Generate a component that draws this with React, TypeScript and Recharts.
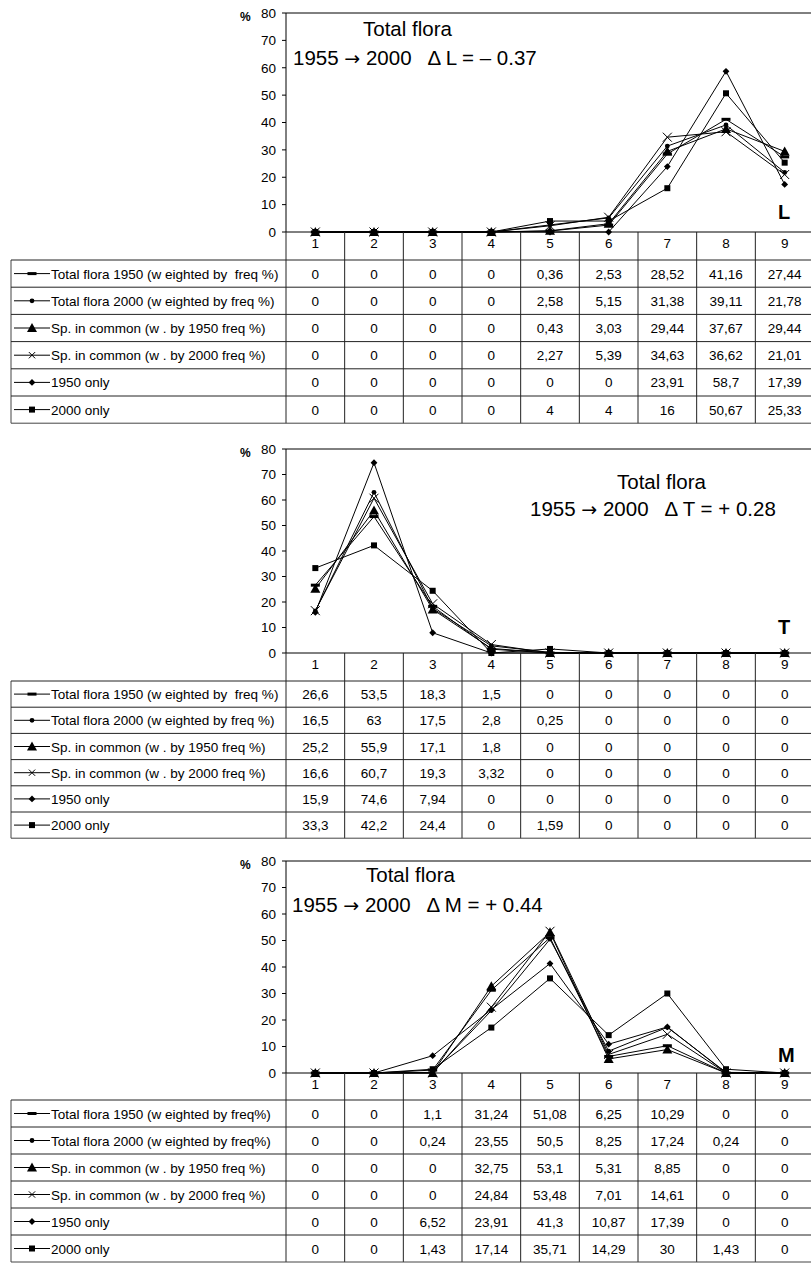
import React from "react";
import { LineChart, Line, XAxis, YAxis, ReferenceLine } from "recharts";

const categories = ["1", "2", "3", "4", "5", "6", "7", "8", "9"];
const yTicks = [0, 10, 20, 30, 40, 50, 60, 70, 80];

// L panel
const lTotal1950 = [0, 0, 0, 0, 0.36, 2.53, 28.52, 41.16, 27.44];
const lTotal2000 = [0, 0, 0, 0, 2.58, 5.15, 31.38, 39.11, 21.78];
const lCommon1950 = [0, 0, 0, 0, 0.43, 3.03, 29.44, 37.67, 29.44];
const lCommon2000 = [0, 0, 0, 0, 2.27, 5.39, 34.63, 36.62, 21.01];
const lOnly1950 = [0, 0, 0, 0, 0, 0, 23.91, 58.7, 17.39];
const lOnly2000 = [0, 0, 0, 0, 4, 4, 16, 50.67, 25.33];

// T panel
const tTotal1950 = [26.6, 53.5, 18.3, 1.5, 0, 0, 0, 0, 0];
const tTotal2000 = [16.5, 63, 17.5, 2.8, 0.25, 0, 0, 0, 0];
const tCommon1950 = [25.2, 55.9, 17.1, 1.8, 0, 0, 0, 0, 0];
const tCommon2000 = [16.6, 60.7, 19.3, 3.32, 0, 0, 0, 0, 0];
const tOnly1950 = [15.9, 74.6, 7.94, 0, 0, 0, 0, 0, 0];
const tOnly2000 = [33.3, 42.2, 24.4, 0, 1.59, 0, 0, 0, 0];

// M panel
const mTotal1950 = [0, 0, 1.1, 31.24, 51.08, 6.25, 10.29, 0, 0];
const mTotal2000 = [0, 0, 0.24, 23.55, 50.5, 8.25, 17.24, 0.24, 0];
const mCommon1950 = [0, 0, 0, 32.75, 53.1, 5.31, 8.85, 0, 0];
const mCommon2000 = [0, 0, 0, 24.84, 53.48, 7.01, 14.61, 0, 0];
const mOnly1950 = [0, 0, 6.52, 23.91, 41.3, 10.87, 17.39, 0, 0];
const mOnly2000 = [0, 0, 1.43, 17.14, 35.71, 14.29, 30, 1.43, 0];

const labelsLT = [
  "Total flora 1950 (w eighted by  freq %)",
  "Total flora 2000 (w eighted by freq %)",
  "Sp. in common (w . by 1950 freq %)",
  "Sp. in common (w . by 2000 freq %)",
  "1950 only",
  "2000 only",
];
const labelsM = [
  "Total flora 1950 (w eighted by freq%)",
  "Total flora 2000 (w eighted by freq%)",
  "Sp. in common (w . by 1950 freq %)",
  "Sp. in common (w . by 2000 freq %)",
  "1950 only",
  "2000 only",
];
const markers = ["dash", "circle", "triangle", "cross", "diamond", "square"];

const FONT = '"Liberation Sans", Arial, sans-serif';
const PLOT_LEFT = 286;
const PLOT_RIGHT = 814;
const COL_W = (PLOT_RIGHT - PLOT_LEFT) / 9;
const TABLE_LEFT = 11;
const SMALL = 13.5;
const BIG = 20.5;

const fmt = (v: number) => String(v).replace(".", ",");

function Marker({ kind, cx, cy, s = 1 }: { kind: string; cx: number; cy: number; s?: number }) {
  if (cx == null || cy == null) return null;
  switch (kind) {
    case "dash":
      return <rect x={cx - 4.5 * s} y={cy - 1.5} width={9 * s} height={3} fill="#000" />;
    case "circle":
      return <circle cx={cx} cy={cy} r={2.4 * s} fill="#000" />;
    case "triangle":
      return (
        <polygon
          points={`${cx},${cy - 5 * s} ${cx - 5 * s},${cy + 4 * s} ${cx + 5 * s},${cy + 4 * s}`}
          fill="#000"
        />
      );
    case "cross": {
      const r = 4.5 * s;
      return (
        <g stroke="#000" strokeWidth={1}>
          <line x1={cx - r} y1={cy - r} x2={cx + r} y2={cy + r} />
          <line x1={cx - r} y1={cy + r} x2={cx + r} y2={cy - r} />
        </g>
      );
    }
    case "diamond": {
      const r = 3.4 * s;
      return (
        <polygon points={`${cx},${cy - r} ${cx + r},${cy} ${cx},${cy + r} ${cx - r},${cy}`} fill="#000" />
      );
    }
    default:
      return <rect x={cx - 3 * s} y={cy - 3 * s} width={6 * s} height={6 * s} fill="#000" />;
  }
}

type PanelProps = {
  series: number[][];
  labels: string[];
  plotTop: number;
  plotBottom: number;
  headerH: number;
  rowH: number;
  title: { x: number; y: number };
  line2: { x: number; y: number; sym: string; delta: string };
  letter: string;
  letterY: number;
};

function Panel(p: PanelProps) {
  const plotH = p.plotBottom - p.plotTop;
  const data = categories.map((c, i) => {
    const row: any = { cat: c };
    p.series.forEach((s, k) => (row["s" + k] = s[i]));
    return row;
  });
  const tableH = p.headerH + 6 * p.rowH;
  const colX = (k: number) => PLOT_LEFT + k * COL_W;
  return (
    <>
      <div style={{ position: "absolute", left: 0, top: p.plotTop - 10 }}>
        <LineChart
          width={PLOT_RIGHT}
          height={plotH + 10 + p.headerH}
          data={data}
          margin={{ top: 10, right: 0, bottom: 0, left: 0 }}
        >
          <XAxis
            dataKey="cat"
            height={p.headerH}
            padding={{ left: COL_W / 2, right: COL_W / 2 }}
            interval={0}
            tickLine={false}
            tickSize={4}
            tickMargin={2}
            axisLine={{ stroke: "#000" }}
            tick={{ fill: "#000", fontSize: SMALL }}
          />
          <YAxis
            width={PLOT_LEFT}
            domain={[0, 80]}
            ticks={yTicks}
            interval={0}
            tickSize={4}
            tickMargin={6}
            axisLine={{ stroke: "#000" }}
            tickLine={{ stroke: "#000" }}
            tick={{ fill: "#000", fontSize: SMALL }}
          />
          <ReferenceLine y={80} stroke="#000" />
          {p.series.map((_, k) => (
            <Line
              key={k}
              type="linear"
              dataKey={"s" + k}
              stroke="#000"
              strokeWidth={1}
              isAnimationActive={false}
              activeDot={false}
              dot={(d: any) => (
                <Marker key={`m${k}-${d.index}`} kind={markers[k]} cx={d.cx} cy={d.cy} />
              )}
            />
          ))}
        </LineChart>
      </div>
      <svg
        style={{ position: "absolute", left: 0, top: p.plotBottom, overflow: "visible" }}
        width={811}
        height={tableH + 2}
      >
        {Array.from({ length: 10 }, (_, k) => (
          <line key={"v" + k} x1={colX(k)} x2={colX(k)} y1={0} y2={tableH} stroke="#222" />
        ))}
        <line x1={TABLE_LEFT} x2={TABLE_LEFT} y1={p.headerH} y2={tableH} stroke="#444" />
        {Array.from({ length: 7 }, (_, r) => (
          <line
            key={"h" + r}
            x1={TABLE_LEFT}
            x2={PLOT_RIGHT}
            y1={p.headerH + r * p.rowH}
            y2={p.headerH + r * p.rowH}
            stroke={r === 6 ? "#444" : "#222"}
          />
        ))}
        {p.series.map((s, r) => {
          const cy = p.headerH + (r + 0.5) * p.rowH;
          return (
            <g key={"r" + r}>
              <line x1={14} x2={50} y1={cy} y2={cy} stroke="#000" />
              <Marker kind={markers[r]} cx={32} cy={cy} s={markers[r] === "cross" ? 0.7 : 1} />
              <text x={51} y={cy + 5} fontSize={SMALL} fill="#000" style={{ whiteSpace: "pre" }}>
                {p.labels[r]}
              </text>
              {s.map((v, c) => (
                <text
                  key={c}
                  x={colX(c) + COL_W / 2}
                  y={cy + 5}
                  fontSize={SMALL}
                  fill="#000"
                  textAnchor="middle"
                >
                  {fmt(v)}
                </text>
              ))}
            </g>
          );
        })}
      </svg>
      <div
        style={{
          position: "absolute",
          left: 240,
          top: p.plotTop - 3,
          fontSize: 12,
          fontWeight: "bold",
          lineHeight: "14px",
        }}
      >
        %
      </div>
      <div
        style={{
          position: "absolute",
          left: p.title.x,
          top: p.title.y - 12,
          fontSize: BIG,
          lineHeight: "24px",
          whiteSpace: "pre",
        }}
      >
        Total flora
      </div>
      <div
        style={{
          position: "absolute",
          left: p.line2.x,
          top: p.line2.y - 12,
          fontSize: BIG,
          lineHeight: "24px",
          whiteSpace: "pre",
        }}
      >
        {"1955 "}
        <span style={{ fontFamily: '"DejaVu Sans"', fontSize: 19 }}>{"\u2192"}</span>
        {" 2000   \u0394 " + p.line2.sym + " = " + p.line2.delta}
      </div>
      <div
        style={{
          position: "absolute",
          left: 778,
          top: p.letterY - 12,
          fontSize: 20,
          fontWeight: "bold",
          lineHeight: "24px",
        }}
      >
        {p.letter}
      </div>
    </>
  );
}

export default function App() {
  return (
    <div
      style={{
        position: "absolute",
        left: 0,
        top: 0,
        width: 811,
        height: 1267,
        overflow: "hidden",
        background: "#fff",
        fontFamily: FONT,
        color: "#000",
      }}
    >
      <Panel
        series={[lTotal1950, lTotal2000, lCommon1950, lCommon2000, lOnly1950, lOnly2000]}
        labels={labelsLT}
        plotTop={13}
        plotBottom={232}
        headerH={28}
        rowH={27.2}
        title={{ x: 363, y: 29 }}
        line2={{ x: 293, y: 58, sym: "L", delta: "\u2013 0.37" }}
        letter="L"
        letterY={212}
      />
      <Panel
        series={[tTotal1950, tTotal2000, tCommon1950, tCommon2000, tOnly1950, tOnly2000]}
        labels={labelsLT}
        plotTop={449}
        plotBottom={653}
        headerH={28}
        rowH={26.2}
        title={{ x: 617, y: 482 }}
        line2={{ x: 530, y: 509, sym: "T", delta: "+ 0.28" }}
        letter="T"
        letterY={627}
      />
      <Panel
        series={[mTotal1950, mTotal2000, mCommon1950, mCommon2000, mOnly1950, mOnly2000]}
        labels={labelsM}
        plotTop={861}
        plotBottom={1073}
        headerH={27}
        rowH={27}
        title={{ x: 366, y: 875 }}
        line2={{ x: 292, y: 905, sym: "M", delta: "+ 0.44" }}
        letter="M"
        letterY={1055}
      />
    </div>
  );
}
